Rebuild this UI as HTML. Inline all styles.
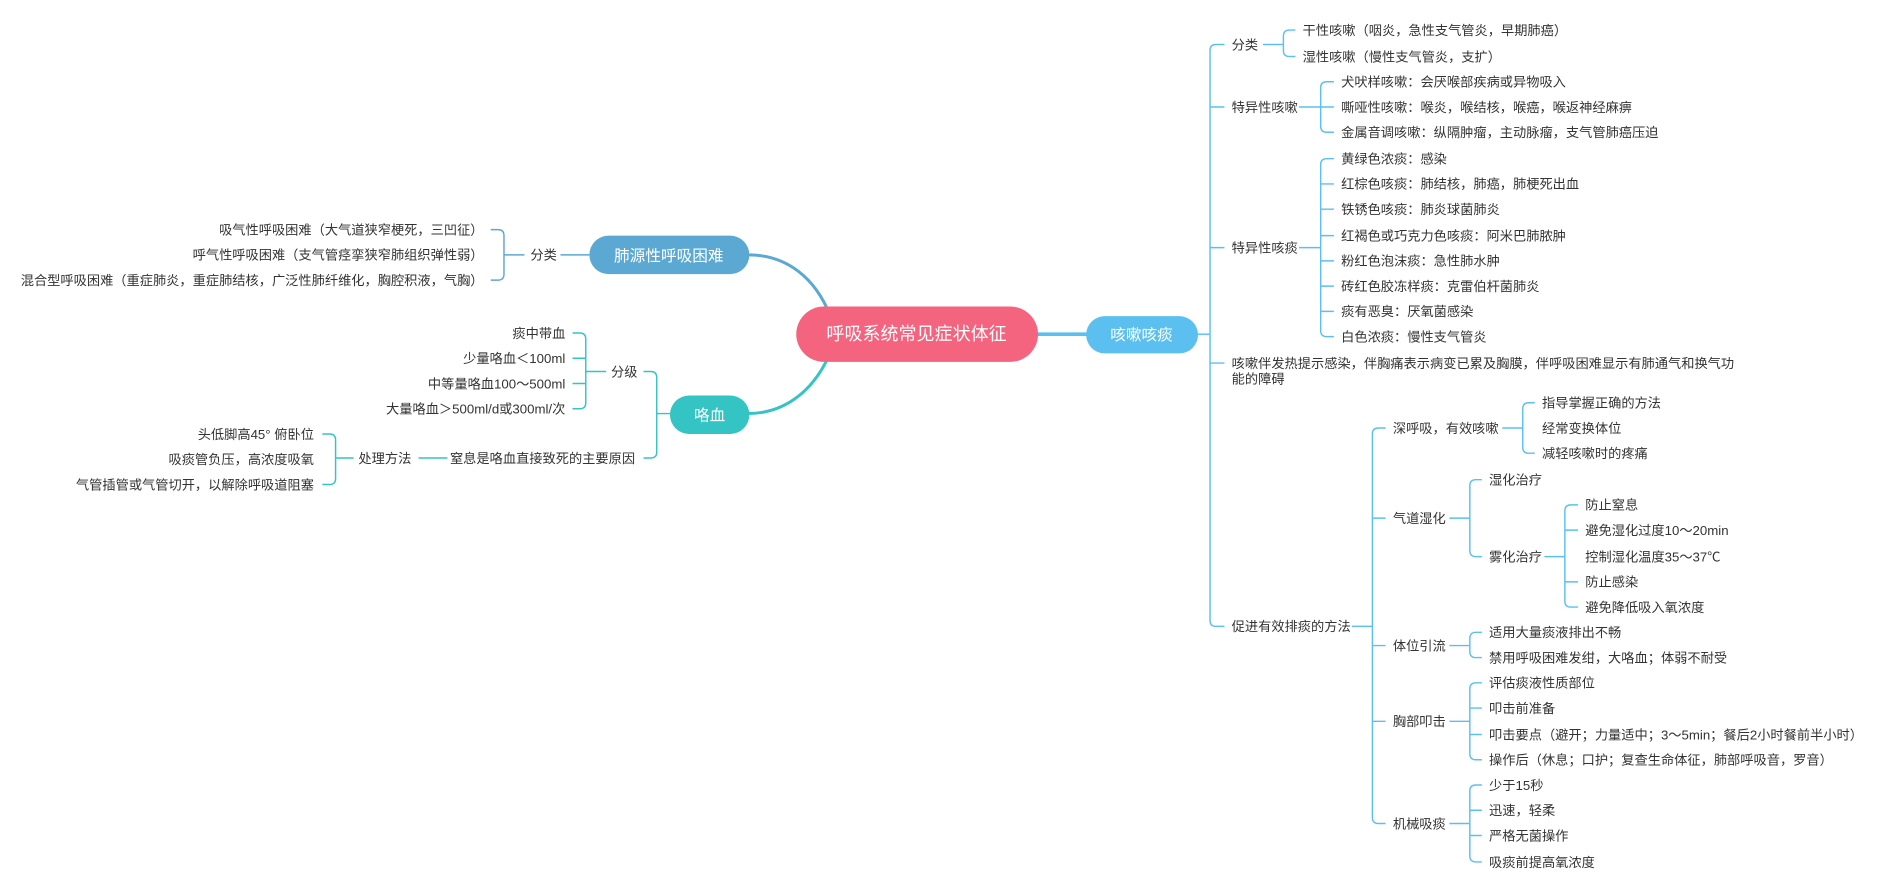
<!DOCTYPE html>
<html><head><meta charset="utf-8">
<style>
html,body{margin:0;padding:0;background:#fff;}
svg{display:block;}
text{font-family:"Liberation Sans","Noto Sans CJK SC",sans-serif;font-size:11px;fill:#333;}
.n{fill:#fff;text-anchor:middle;}
.b{fill:none;stroke:#5bc0f0;stroke-width:1.2;}
.l{fill:none;stroke:#5ba8d2;stroke-width:1.2;}
.t{fill:none;stroke:#35c4c4;stroke-width:1.2;}
</style></head><body>
<svg width="1886" height="892" viewBox="0 0 1568 742" preserveAspectRatio="none" xmlns="http://www.w3.org/2000/svg">
<path d="M690,262 C678,232 655,212 622,212" fill="none" stroke="#5ba8d2" stroke-width="2.5"/>
<path d="M690,294 C678,322 655,344 622,344" fill="none" stroke="#35c4c4" stroke-width="2.5"/>
<path d="M860,278 H905" stroke="#5bc0f0" stroke-width="3"/>
<rect x="662" y="255" width="201" height="46" rx="23" fill="#f4647f"/>
<text class="n" x="762" y="283" style="font-size:15px">呼吸系统常见症状体征</text>
<rect x="903" y="263" width="93" height="31" rx="15.5" fill="#5bc0f0"/>
<text class="n" x="949" y="283" style="font-size:13px">咳嗽咳痰</text>
<rect x="490" y="196" width="133" height="32" rx="16" fill="#5ba8d2"/>
<text class="n" x="556" y="217" style="font-size:13px">肺源性呼吸困难</text>
<rect x="557" y="329" width="66" height="32" rx="16" fill="#35c4c4"/>
<text class="n" x="590" y="350" style="font-size:13px">咯血</text>

<path class="b" d="M995,278 H1006"/>
<path class="b" d="M1018,37 H1011 Q1006,37 1006,42 V516 Q1006,521 1011,521 H1018 M1006,89 H1018 M1006,206 H1018 M1006,302 H1018"/>
<text x="1024" y="41">分类</text>
<text x="1024" y="93">特异性咳嗽</text>
<text x="1024" y="210">特异性咳痰</text>
<text x="1024" y="306">咳嗽伴发热提示感染，伴胸痛表示病变已累及胸膜，伴呼吸困难显示有肺通气和换气功</text>
<text x="1024" y="319">能的障碍</text>
<text x="1024" y="525">促进有效排痰的方法</text>

<path class="b" d="M1050,37 H1067 M1077,25 H1072 Q1067,25 1067,30 V42 Q1067,47 1072,47 H1077"/>
<text x="1083" y="29">干性咳嗽（咽炎，急性支气管炎，早期肺癌）</text>
<text x="1083" y="51">湿性咳嗽（慢性支气管炎，支扩）</text>

<path class="b" d="M1080,89 H1098 M1109,68 H1103 Q1098,68 1098,73 V105 Q1098,110 1103,110 H1109 M1098,89 H1109"/>
<text x="1115" y="72">犬吠样咳嗽：会厌喉部疾病或异物吸入</text>
<text x="1115" y="93">嘶哑性咳嗽：喉炎，喉结核，喉癌，喉返神经麻痹</text>
<text x="1115" y="114">金属音调咳嗽：纵隔肿瘤，主动脉瘤，支气管肺癌压迫</text>

<path class="b" d="M1080,206 H1098 M1109,132 H1103 Q1098,132 1098,137 V275 Q1098,280 1103,280 H1109 M1098,153 H1109 M1098,174 H1109 M1098,196 H1109 M1098,217 H1109 M1098,238 H1109 M1098,259 H1109"/>
<text x="1115" y="136">黄绿色浓痰：感染</text>
<text x="1115" y="157">红棕色咳痰：肺结核，肺癌，肺梗死出血</text>
<text x="1115" y="178">铁锈色咳痰：肺炎球菌肺炎</text>
<text x="1115" y="200">红褐色或巧克力色咳痰：阿米巴肺脓肿</text>
<text x="1115" y="221">粉红色泡沫痰：急性肺水肿</text>
<text x="1115" y="242">砖红色胶冻样痰：克雷伯杆菌肺炎</text>
<text x="1115" y="263">痰有恶臭：厌氧菌感染</text>
<text x="1115" y="284">白色浓痰：慢性支气管炎</text>

<path class="b" d="M1124,521 H1141 M1152,356 H1146 Q1141,356 1141,361 V680 Q1141,685 1146,685 H1152 M1141,431 H1152 M1141,537 H1152 M1141,600 H1152"/>
<text x="1158" y="360">深呼吸，有效咳嗽</text>
<text x="1158" y="435">气道湿化</text>
<text x="1158" y="541">体位引流</text>
<text x="1158" y="604">胸部叩击</text>
<text x="1158" y="689">机械吸痰</text>

<path class="b" d="M1249,356 H1266 M1276,335 H1271 Q1266,335 1266,340 V372 Q1266,377 1271,377 H1276"/>
<text x="1282" y="339">指导掌握正确的方法</text>
<text x="1282" y="360">经常变换体位</text>
<text x="1282" y="381">减轻咳嗽时的疼痛</text>

<path class="b" d="M1205,431 H1222 M1232,399 H1227 Q1222,399 1222,404 V458 Q1222,463 1227,463 H1232"/>
<text x="1238" y="403">湿化治疗</text>
<text x="1238" y="467">雾化治疗</text>

<path class="b" d="M1284,463 H1301 M1312,420 H1306 Q1301,420 1301,425 V500 Q1301,505 1306,505 H1312 M1301,441 H1312 M1301,484 H1312"/>
<text x="1318" y="424">防止窒息</text>
<text x="1318" y="445">避免湿化过度10～20min</text>
<text x="1318" y="467">控制湿化温度35～37℃</text>
<text x="1318" y="488">防止感染</text>
<text x="1318" y="509">避免降低吸入氧浓度</text>

<path class="b" d="M1205,537 H1222 M1232,526 H1227 Q1222,526 1222,531 V542 Q1222,547 1227,547 H1232"/>
<text x="1238" y="530">适用大量痰液排出不畅</text>
<text x="1238" y="551">禁用呼吸困难发绀，大咯血；体弱不耐受</text>

<path class="b" d="M1205,600 H1222 M1232,568 H1227 Q1222,568 1222,573 V627 Q1222,632 1227,632 H1232 M1222,589 H1232 M1222,611 H1232"/>
<text x="1238" y="572">评估痰液性质部位</text>
<text x="1238" y="593">叩击前准备</text>
<text x="1238" y="615">叩击要点（避开；力量适中；3～5min；餐后2小时餐前半小时）</text>
<text x="1238" y="636">操作后（休息；口护；复查生命体征，肺部呼吸音，罗音）</text>

<path class="b" d="M1205,685 H1222 M1232,653 H1227 Q1222,653 1222,658 V712 Q1222,717 1227,717 H1232 M1222,674 H1232 M1222,695 H1232"/>
<text x="1238" y="657">少于15秒</text>
<text x="1238" y="678">迅速，轻柔</text>
<text x="1238" y="699">严格无菌操作</text>
<text x="1238" y="721">吸痰前提高氧浓度</text>

<path class="l" d="M490,212 H466 M436,212 H419 M408,191 H414 Q419,191 419,196 V228 Q419,233 414,233 H408"/>
<text x="441" y="216">分类</text>
<text x="402" y="195" text-anchor="end">吸气性呼吸困难（大气道狭窄梗死，三凹征）</text>
<text x="402" y="216" text-anchor="end">呼气性呼吸困难（支气管痉挛狭窄肺组织弹性弱）</text>
<text x="402" y="237" text-anchor="end">混合型呼吸困难（重症肺炎，重症肺结核，广泛性肺纤维化，胸腔积液，气胸）</text>

<path class="t" d="M557,344 H546 M535,309 H541 Q546,309 546,314 V376 Q546,381 541,381 H535"/>
<text x="508" y="313">分级</text>
<text x="528" y="385" text-anchor="end">窒息是咯血直接致死的主要原因</text>
<path class="t" d="M504,309 H487 M476,277 H482 Q487,277 487,282 V335 Q487,340 482,340 H476 M487,298 H476 M487,319 H476"/>
<text x="470" y="281" text-anchor="end">痰中带血</text>
<text x="470" y="302" text-anchor="end">少量咯血＜100ml</text>
<text x="470" y="323" text-anchor="end">中等量咯血100～500ml</text>
<text x="470" y="344" text-anchor="end">大量咯血＞500ml/d或300ml/次</text>
<path class="t" d="M372,381 H348 M294,381 H279 M268,361 H274 Q279,361 279,366 V398 Q279,403 274,403 H268"/>
<text x="298" y="385">处理方法</text>
<text x="261" y="365" text-anchor="end">头低脚高45° 俯卧位</text>
<text x="261" y="386" text-anchor="end">吸痰管负压，高浓度吸氧</text>
<text x="261" y="407" text-anchor="end">气管插管或气管切开，以解除呼吸道阻塞</text>
</svg>
</body></html>
